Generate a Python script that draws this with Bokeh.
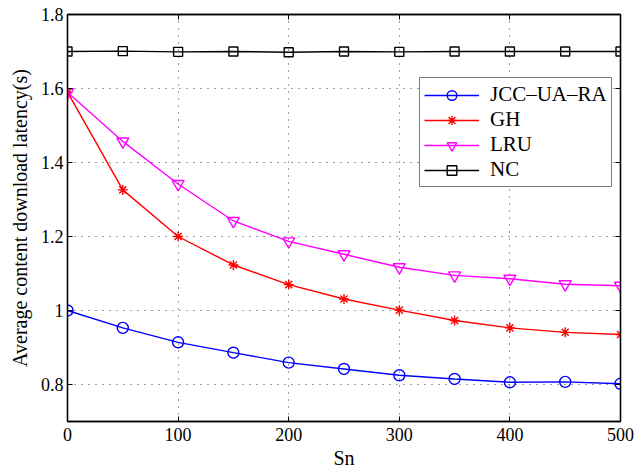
from bokeh.plotting import figure
from bokeh.models import LinearAxis, Range1d, FixedTicker, Legend, LegendItem
from bokeh.embed import file_html
from bokeh.resources import INLINE

sn = [0, 50, 100, 150, 200, 250, 300, 350, 400, 450, 500]
jcc = [1.000, 0.953, 0.914, 0.886, 0.859, 0.842, 0.825, 0.815, 0.806, 0.807, 0.802]
gh = [1.590, 1.326, 1.200, 1.123, 1.070, 1.031, 1.001, 0.973, 0.953, 0.941, 0.935]
lru = [1.590, 1.457, 1.342, 1.242, 1.187, 1.152, 1.117, 1.095, 1.086, 1.071, 1.067]
nc = [1.700, 1.701, 1.699, 1.700, 1.698, 1.700, 1.699, 1.700, 1.700, 1.700, 1.700]

x_ticks = [0, 100, 200, 300, 400, 500]
y_ticks = [0.8, 1.0, 1.2, 1.4, 1.6, 1.8]
y_labels = {0.8: "0.8", 1.0: "1", 1.2: "1.2", 1.4: "1.4", 1.6: "1.6", 1.8: "1.8"}

FONT = "Liberation Serif"
TICK_FS = "18px"
LABEL_FS = "20px"
LEG_FS = "21px"

p = figure(width=634, height=474, output_backend="svg", toolbar_location=None,
           x_range=Range1d(0, 500), y_range=Range1d(0.7, 1.8),
           min_border_left=67, min_border_right=14, min_border_top=14, min_border_bottom=53)
p.background_fill_color = "white"
p.border_fill_color = "white"
p.outline_line_color = "black"
p.outline_line_width = 1.3

for ax in [p.xaxis[0], p.yaxis[0]]:
    ax.major_tick_in = 5
    ax.major_tick_out = 0
    ax.minor_tick_in = 0
    ax.minor_tick_out = 0
    ax.axis_line_color = "black"
    ax.axis_line_width = 1.3
    ax.major_label_text_font = FONT
    ax.major_label_text_font_size = TICK_FS
    ax.major_label_text_color = "black"
    ax.axis_label_text_font = FONT
    ax.axis_label_text_font_size = LABEL_FS
    ax.axis_label_text_font_style = "normal"
    ax.axis_label_text_color = "black"

p.xaxis[0].ticker = FixedTicker(ticks=x_ticks)
p.yaxis[0].ticker = FixedTicker(ticks=y_ticks)
p.yaxis[0].major_label_overrides = y_labels
p.xaxis[0].axis_label = "Sn"
p.yaxis[0].axis_label = "Average content download latency(s)"
p.xaxis[0].major_label_standoff = 6
p.yaxis[0].major_label_standoff = 4
p.xaxis[0].axis_label_standoff = 3
p.yaxis[0].axis_label_standoff = 7

for side, tk in [("right", y_ticks), ("above", x_ticks)]:
    ax = LinearAxis(ticker=FixedTicker(ticks=tk))
    ax.major_tick_in = 5
    ax.major_tick_out = 0
    ax.minor_tick_in = 0
    ax.minor_tick_out = 0
    ax.major_label_text_font_size = "0px"
    ax.major_label_standoff = 0
    ax.axis_line_color = "black"
    ax.axis_line_width = 1.3
    p.add_layout(ax, side)

p.xgrid.ticker = FixedTicker(ticks=x_ticks)
p.ygrid.ticker = FixedTicker(ticks=y_ticks)
for g in [p.xgrid[0], p.ygrid[0]]:
    g.grid_line_color = "black"
    g.grid_line_alpha = 0.75
    g.grid_line_dash = "1 6"
    g.grid_line_width = 1

items = []
series = [
    ("JCC\u2013UA\u2013RA", jcc, "#0000ff", "circle", 11),
    ("GH", gh, "#ff0000", "asterisk", 10),
    ("LRU", lru, "#ff00ff", "inverted_triangle", 12),
    ("NC", nc, "#000000", "square", 9),
]
for name, ys, col, mk, sz in series:
    l = p.line(sn, ys, line_color=col, line_width=1.4)
    s = p.scatter(sn, ys, marker=mk, size=sz, line_color=col, fill_color=None, line_width=1.4)
    items.append(LegendItem(label=name, renderers=[l, s]))

leg = Legend(items=items, location=(352, 234))
leg.label_text_font = FONT
leg.label_text_font_size = LEG_FS
leg.label_text_color = "black"
leg.glyph_width = 55
leg.glyph_height = 24
leg.label_height = 24
leg.spacing = 0
leg.padding = 4
leg.margin = 0
leg.label_standoff = 11
leg.border_line_color = "black"
leg.border_line_width = 1.2
leg.background_fill_color = "white"
leg.background_fill_alpha = 1
p.add_layout(leg, "center")

open("out.html", "w").write(file_html(p, INLINE))
